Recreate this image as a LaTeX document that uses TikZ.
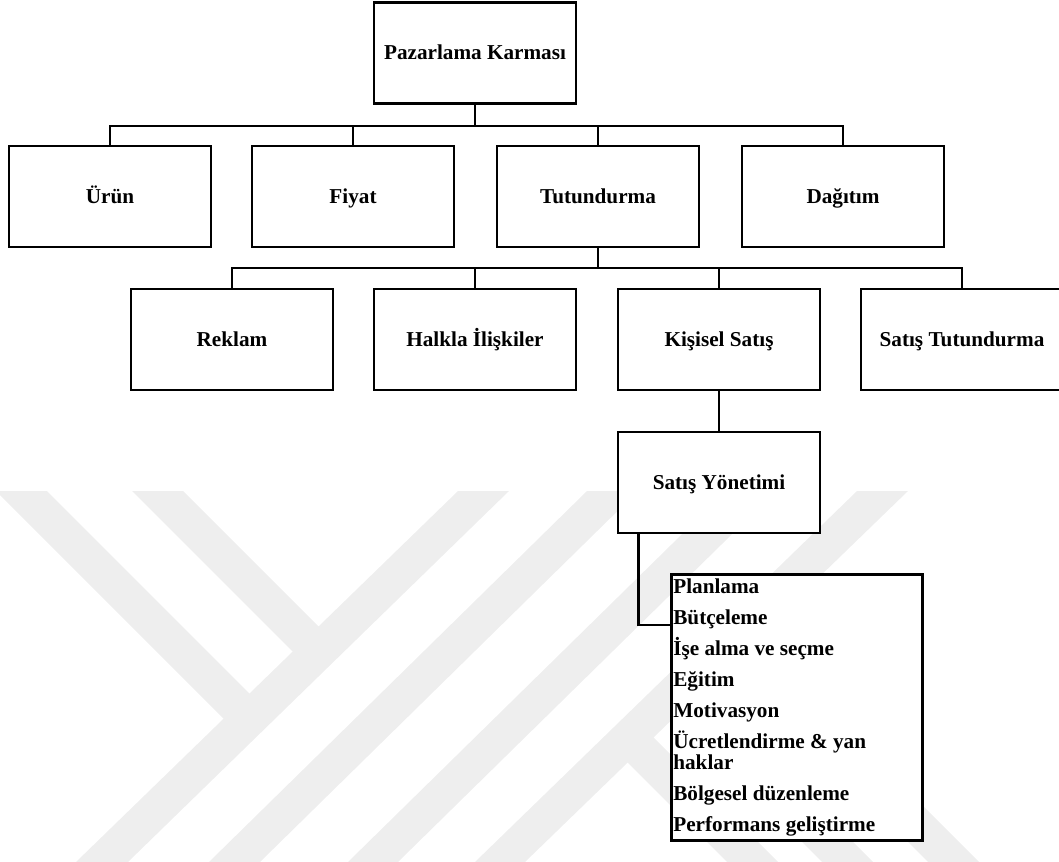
\documentclass[tikz,border=0pt]{standalone}
\usepackage{fontspec}
\setmainfont{Liberation Serif}
\usetikzlibrary{calc}
\definecolor{wmgray}{RGB}{238,238,238}
% lines of the list keep a fixed distance, whatever their accents
\newcommand{\fixedlines}{\lineskiplimit=-20pt\relax\lineskip=0pt\relax}
\tikzset{
  box/.style={draw, line width=2.2pt, fill=white, minimum width=151.5pt,
    minimum height=75.75pt, inner sep=0pt, text height=14pt, text depth=3.5pt,
    font=\fontsize{15.9}{18}\selectfont\bfseries},
  link/.style={line width=1.9pt},
  stripe/.style={fill=wmgray, draw=none},
  listbox/.style={draw, line width=2pt, fill=white, align=flush left,
    inner xsep=1.5pt, inner ysep=3.4pt, text width=185.25pt,
    font=\fontsize{15.9}{15.75}\selectfont\bfseries}
}
\begin{document}
\begin{tikzpicture}[x=0.75pt,y=-0.75pt]
\useasboundingbox (0,0) rectangle (1059,862);

% background stripes
\fill[stripe] (-4,491) -- (47,491) -- (259,703) -- (233,728) -- cycle;
\fill[stripe] (132,491) -- (183,491) -- (329,637) -- (303,662) -- cycle;
\fill[stripe] (458,491) -- (509,491) -- (128,862) -- (76,862) -- cycle;
\fill[stripe] (587,491) -- (638,491) -- (260,862) -- (209,862) -- cycle;
\fill[stripe] (726,491) -- (776,491) -- (398,862) -- (348,862) -- cycle;
\fill[stripe] (857,491) -- (908,491) -- (525,862) -- (475,862) -- cycle;
\fill[stripe] (643,727) -- (816,900) -- (765,900) -- (618,753) -- cycle;
\fill[stripe] (691,680) -- (911,900) -- (860,900) -- (665,705) -- cycle;
\fill[stripe] (747,630) -- (1017,900) -- (966,900) -- (721,655) -- cycle;

% top level
\node[box] (pk) at (475,53) {Pazarlama Karması};

% marketing mix elements
\node[box] (urun) at (110,196.5) {Ürün};
\node[box] (fiyat) at (353,196.5) {Fiyat};
\node[box] (tut) at (598,196.5) {Tutundurma};
\node[box] (dag) at (843,196.5) {Dağıtım};

% promotion mix elements
\node[box] (rek) at (232,339.5) {Reklam};
\node[box] (halk) at (475,339.5) {Halkla İlişkiler};
\node[box] (kis) at (719,339.5) {Kişisel Satış};
\node[box] (stut) at (962,339.5) {Satış Tutundurma};

% sales management
\node[box] (sy) at (719,482.5) {Satış Yönetimi};

\node[listbox, anchor=north west] (list) at (670,573) {\fixedlines
Planlama\\[7.5pt]
Bütçeleme\\[7.5pt]
İşe alma ve seçme\\[7.5pt]
Eğitim\\[7.5pt]
Motivasyon\\[7.5pt]
Ücretlendirme \& yan\\
haklar\\[7.5pt]
Bölgesel düzenleme\\[7.5pt]
Performans geliştirme};

% connectors
\coordinate (bus1) at (pk.south |- 0,126);
\draw[link] (pk.south) -- (bus1);
\foreach \c in {urun,fiyat,tut,dag} \draw[link] (bus1) -| (\c.north);

\coordinate (bus2) at (tut.south |- 0,268);
\draw[link] (tut.south) -- (bus2);
\foreach \c in {rek,halk,kis,stut} \draw[link] (bus2) -| (\c.north);

\draw[link] (kis.south) -- (sy.north);
\draw[link] ($(sy.south west)+(22,0)$) |- ($(list.north west)+(0,52)$);
\end{tikzpicture}
\end{document}
